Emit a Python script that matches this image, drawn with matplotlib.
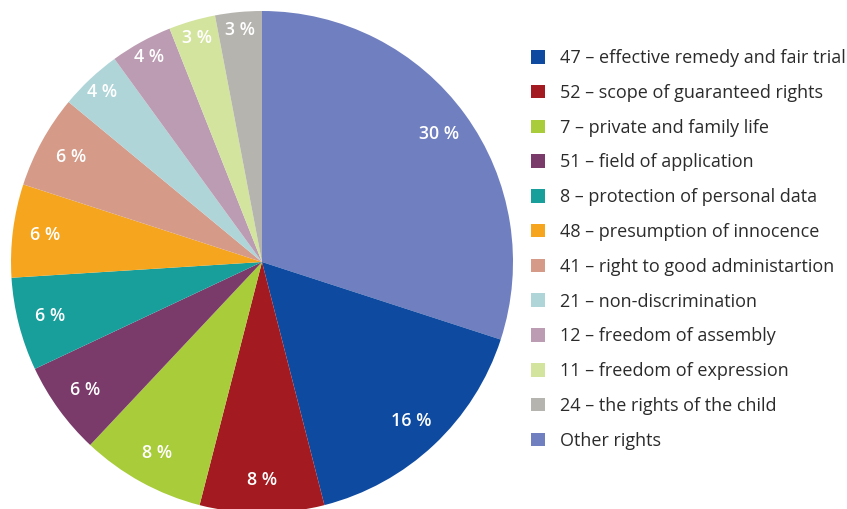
import matplotlib
matplotlib.use('Agg')
import matplotlib.pyplot as plt
import numpy as np

plt.rcParams['font.family'] = ['Open Sans', 'DejaVu Sans']

# pie order, clockwise from 12 o'clock
labels = ['Other rights',
          '47 – effective remedy and fair trial',
          '52 – scope of guaranteed rights',
          '7 – private and family life',
          '51 – field of application',
          '8 – protection of personal data',
          '48 – presumption of innocence',
          '41 – right to good administartion',
          '21 – non-discrimination',
          '12 – freedom of assembly',
          '11 – freedom of expression',
          '24 – the rights of the child']
shares = [30, 16, 8, 8, 6, 6, 6, 6, 4, 4, 3, 3]
colors = ['#6f7fbf', '#0e4aa0', '#a31b20', '#a8cc3a', '#7a3a6a', '#189e9b',
          '#f6a61e', '#d59a88', '#b0d5d8', '#bc9cb2', '#d3e49e', '#b6b4ae']

fig = plt.figure(figsize=(8.47, 5.09), dpi=100)
ax = fig.add_axes([11/847, -4/509, 502/847, 502/509])

wedges, _ = ax.pie(shares, colors=colors, startangle=90, counterclock=False,
                   radius=1, wedgeprops=dict(linewidth=0))
ax.set_xlim(-1, 1)
ax.set_ylim(-1, 1)
ax.set_aspect('equal')

for w, s in zip(wedges, shares):
    ang = np.deg2rad((w.theta1 + w.theta2) / 2)
    r = 0.93 if s <= 4 else 0.87
    ax.text(r * np.cos(ang), r * np.sin(ang), f'{s} %', color='white',
            ha='center', va='center', fontsize=12.8, fontweight='semibold')

# legend order: the named articles first, "Other rights" last
order = list(range(1, len(labels))) + [0]
leg = fig.legend([wedges[i] for i in order], [labels[i] for i in order],
                 loc='upper left', bbox_to_anchor=(531/847, 1 - 49/509),
                 frameon=False, fontsize=13, handlelength=0.78,
                 handleheight=0.78, handletextpad=0.85, labelspacing=0.93,
                 borderaxespad=0, borderpad=0)
for t in leg.get_texts():
    t.set_color('#2b2b2b')

fig.savefig('out.png', dpi=100)
